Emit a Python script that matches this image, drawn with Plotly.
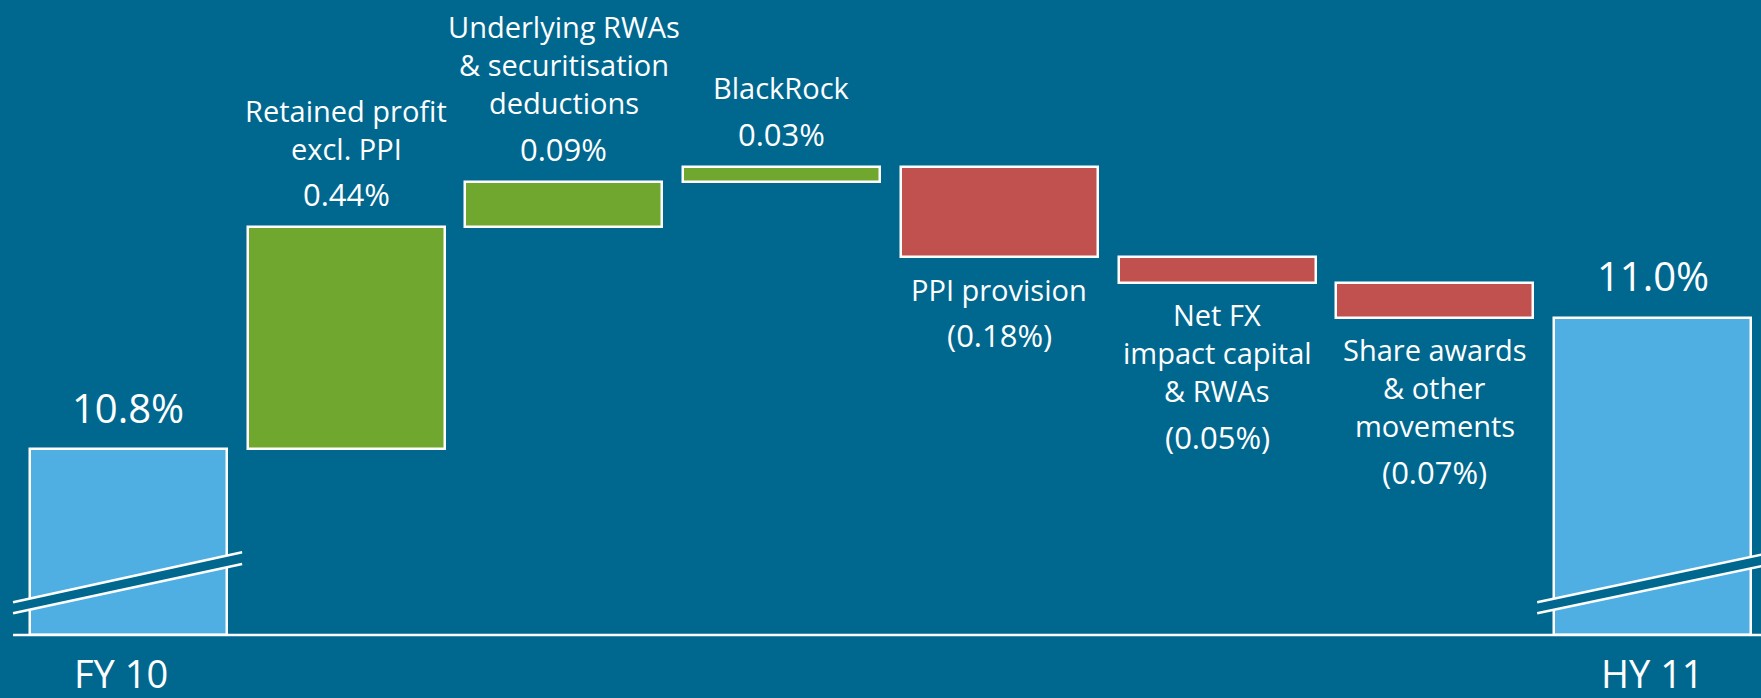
import plotly.graph_objects as go

# ---------------- data ----------------
categories = ["FY 10", "Retained profit excl. PPI", "Underlying RWAs & securitisation deductions",
              "BlackRock", "PPI provision", "Net FX impact capital & RWAs",
              "Share awards & other movements", "HY 11"]
start_value = 10.8
deltas = [0.44, 0.09, 0.03, -0.18, -0.05, -0.07]
delta_names = ["Retained profit<br>excl. PPI",
               "Underlying RWAs<br>& securitisation<br>deductions",
               "BlackRock",
               "PPI provision",
               "Net FX<br>impact capital<br>& RWAs",
               "Share awards<br>& other<br>movements"]
delta_labels = ["0.44%", "0.09%", "0.03%", "(0.18%)", "(0.05%)", "(0.07%)"]
total_labels = ["10.8%", "11.0%"]

# ---------------- style ----------------
BG = "#00688F"
C_TOTAL = "#4FAFE3"
C_UP = "#6FA72F"
C_DOWN = "#C0514F"
FONT = "Open Sans"
W, H = 1761, 698

# pixel mapping of axes (broken / truncated y axis)
PX_PER_UNIT_Y = 504.0
Y_REF_VAL, Y_REF_PX = 10.8, 449.0
y_top = Y_REF_VAL + Y_REF_PX / PX_PER_UNIT_Y
y_bottom = Y_REF_VAL - (H - Y_REF_PX) / PX_PER_UNIT_Y
BASE = Y_REF_VAL - (635 - Y_REF_PX) / PX_PER_UNIT_Y  # where the axis is cut

x_lo, x_hi = -0.590, 7.498

# ---------------- build waterfall ----------------
end_value = start_value + sum(deltas)
xs = list(range(len(categories)))
bases, lengths, colors = [], [], []
bases.append(BASE); lengths.append(start_value - BASE); colors.append(C_TOTAL)
running = start_value
tops, bottoms = [], []
for d in deltas:
    lo = min(running, running + d)
    hi = max(running, running + d)
    bases.append(lo); lengths.append(hi - lo)
    colors.append(C_UP if d > 0 else C_DOWN)
    tops.append(hi); bottoms.append(lo)
    running += d
bases.append(BASE); lengths.append(end_value - BASE); colors.append(C_TOTAL)

fig = go.Figure(go.Bar(
    x=xs, y=lengths, base=bases, width=0.905,
    marker=dict(color=colors, line=dict(color="white", width=2.5)),
    hoverinfo="skip",
))

annotations = []

def ann(x, y, text, yshift, size=29, xshift=0):
    annotations.append(dict(x=x, y=y, xref="x", yref="y", text=text, showarrow=False,
                            yanchor="middle", xanchor="center", yshift=yshift, xshift=xshift,
                            font=dict(family=FONT, size=size, color="white")))

LINE = 38
NAME_SIZE, PCT_SIZE = 29, 31
for i, d in enumerate(deltas):
    xi = i + 1
    lines = delta_names[i].split("<br>")
    n = len(lines)
    if d > 0:
        ann(xi, tops[i], delta_labels[i], 33, PCT_SIZE)
        last = 33 + 46
        for k, t in enumerate(lines):
            ann(xi, tops[i], t, last + (n - 1 - k) * LINE, NAME_SIZE)
    else:
        first = -32
        for k, t in enumerate(lines):
            ann(xi, bottoms[i], t, first - k * LINE, NAME_SIZE)
        ann(xi, bottoms[i], delta_labels[i], first - (n - 1) * LINE - 46, PCT_SIZE)

# totals
ann(0, start_value, total_labels[0], 42, size=40)
ann(7, end_value, total_labels[1], 42, size=40)
# category labels
ann(0, BASE, categories[0], -38, size=38, xshift=-7)
ann(7, BASE, categories[7], -38, size=38)

# ---------------- axis line and break marks ----------------
shapes = [dict(type="line", xref="x", yref="y", x0=-0.53, x1=x_hi + 0.2, y0=BASE, y1=BASE,
               line=dict(color="white", width=2.5), layer="above")]
for xi, (xl, xr) in [(0, (-0.53, 0.522)), (7, (-0.53, 0.55))]:
    ul, ur, ll, lr = BASE + 0.065, BASE + 0.164, BASE + 0.043, BASE + 0.141
    x0, x1 = xi + xl, xi + xr
    shapes.append(dict(type="path", xref="x", yref="y",
                       path=f"M {x0},{ul} L {x1},{ur} L {x1},{lr} L {x0},{ll} Z",
                       fillcolor=BG, line=dict(width=0), layer="above"))
    shapes.append(dict(type="line", xref="x", yref="y", x0=x0, x1=x1, y0=ul, y1=ur,
                       line=dict(color="white", width=2.5), layer="above"))
    shapes.append(dict(type="line", xref="x", yref="y", x0=x0, x1=x1, y0=ll, y1=lr,
                       line=dict(color="white", width=2.5), layer="above"))

fig.update_layout(
    width=W, height=H, autosize=False,
    margin=dict(l=0, r=0, t=0, b=0),
    paper_bgcolor=BG, plot_bgcolor=BG,
    showlegend=False,
    xaxis=dict(range=[x_lo, x_hi], visible=False, fixedrange=True),
    yaxis=dict(range=[y_bottom, y_top], visible=False, fixedrange=True),
    annotations=annotations,
    shapes=shapes,
    bargap=0,
)

fig.write_html("out.html", config={"displayModeBar": False},
               post_script="document.body.style.margin='0';document.body.style.overflow='hidden';document.body.style.background='" + BG + "';")
